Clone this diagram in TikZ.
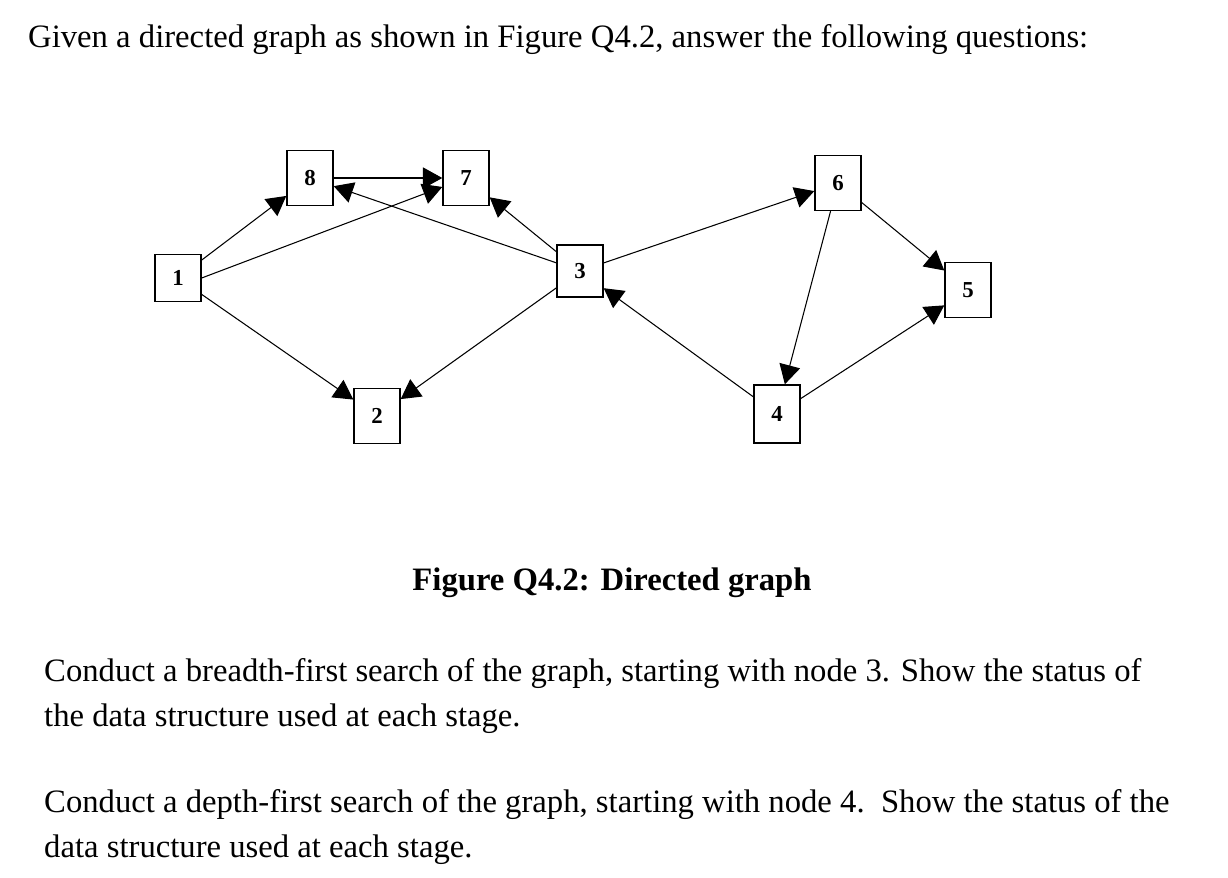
\documentclass[tikz,border=0pt]{standalone}
\usepackage{fontspec}
\setmainfont{Liberation Serif}
\usetikzlibrary{arrows.meta}
\begin{document}
\begin{tikzpicture}[x=0.02cm,y=-0.02cm,
  box/.style={draw,thick,minimum width=46*0.02cm,minimum height=55*0.02cm,inner sep=0pt,font=\fontsize{13}{15}\selectfont\bfseries},
  e/.style={-{Triangle[length=11pt,width=12pt]},semithick}]
\useasboundingbox (0,0) rectangle (1228,878);
\node[anchor=west,font=\fontsize{18.6}{22}\selectfont] (t) at (22,40) {Given a directed graph as shown in Figure Q4.2, answer the following questions:};
\node[box,minimum height=47*0.02cm] (n1) at (178,278) {1};
\node[box] (n8) at (310,178) {8};
\node[box] (n7) at (466,178) {7};
\node[box,minimum height=52*0.02cm] (n3) at (580,271) {3};
\node[box] (n6) at (838,183) {6};
\node[box] (n5) at (968,290) {5};
\node[box] (n2) at (377,416) {2};
\node[box,minimum height=58*0.02cm] (n4) at (777,414) {4};
\draw[e] (n1) -- (n8);
\draw[e] (n1.east) -- (n7);
\draw[e] (n1) -- (n2);
\draw[e] (n8) -- (n7);
\draw[e] (n3) -- (n8);
\draw[e] (n3) -- (n7);
\draw[e] (n3) -- (n2);
\draw[e] (n3) -- (n6);
\draw[e] (n4) -- (n3);
\draw[e] (n6) -- (n5);
\draw[e] (n6) -- (n4);
\draw[e] (n4) -- (n5);
\node[font=\fontsize{18.6}{22}\selectfont\bfseries] (cap) at (612,583) {Figure Q4.2: Directed graph};
\node[anchor=north west,align=left,font=\fontsize{18.6}{25.5}\selectfont] (q1) at (38,652) {Conduct a breadth-first search of the graph, starting with node 3. Show the status of\\the data structure used at each stage.};
\node[anchor=north west,align=left,font=\fontsize{18.6}{25.5}\selectfont] (q2) at (38,783) {Conduct a depth-first search of the graph, starting with node 4.\ \ Show the status of the\\data structure used at each stage.};
\end{tikzpicture}
\end{document}
